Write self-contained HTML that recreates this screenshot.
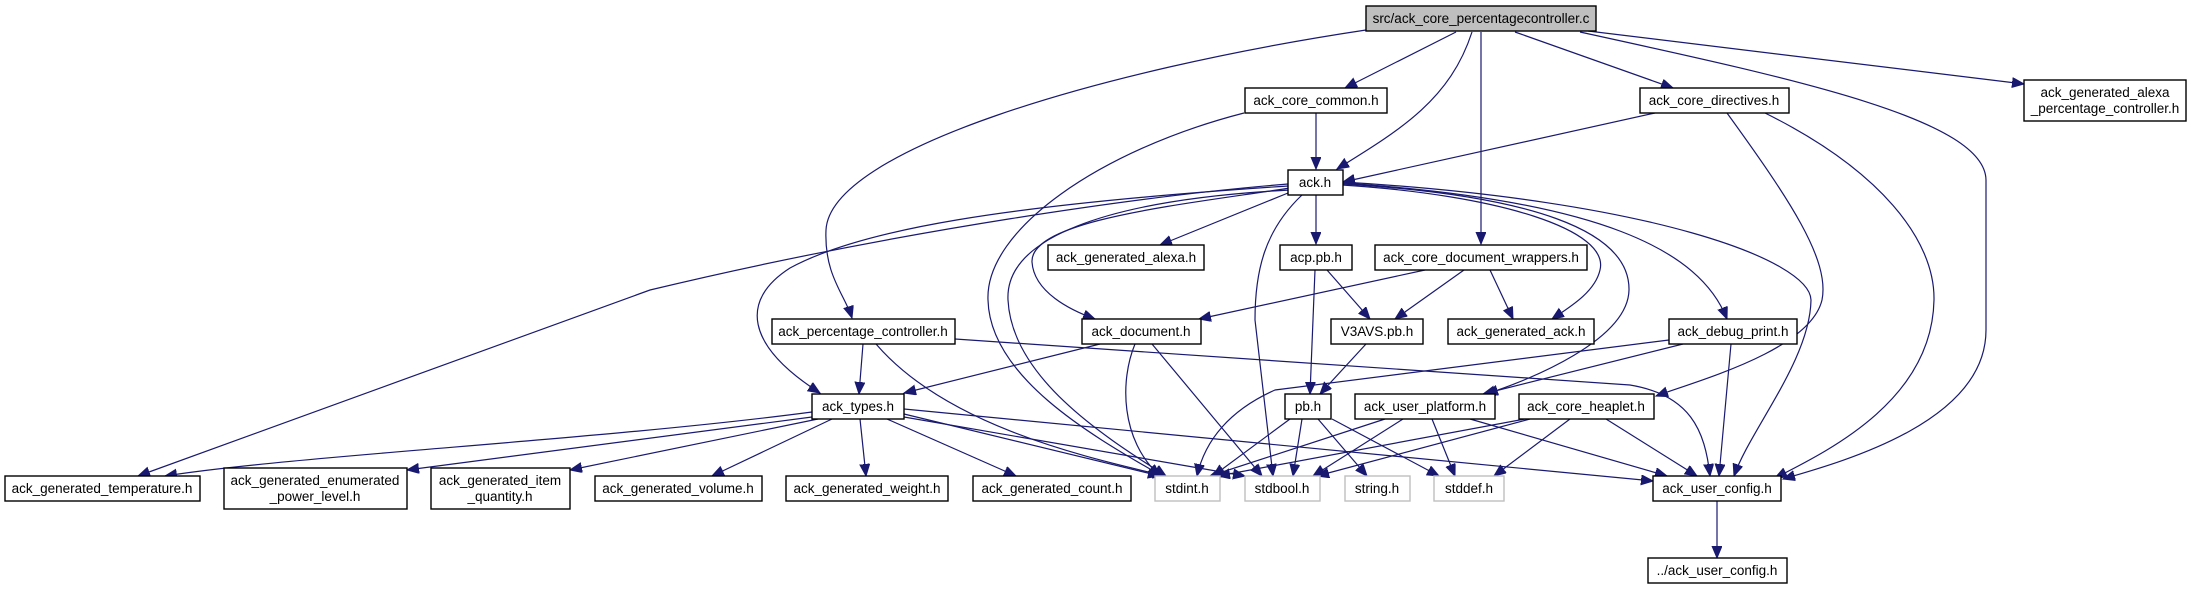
<!DOCTYPE html>
<html><head><meta charset="utf-8"><style>
html,body{margin:0;padding:0;background:#fff;}
svg{display:block;}
text{font-family:"Liberation Sans",Arial,sans-serif;font-size:13.5px;fill:#000;text-anchor:middle;}
.n{fill:#fff;stroke:#000;stroke-width:1.4;}
.g{fill:#fff;stroke:#bfbfbf;stroke-width:1.4;}
.e{fill:none;stroke:#191970;stroke-width:1.2;marker-end:url(#a);}
</style></head><body>
<svg width="2192" height="589" viewBox="0 0 2192 589" xmlns="http://www.w3.org/2000/svg">
<defs><marker id="a" markerUnits="userSpaceOnUse" markerWidth="14" markerHeight="12" refX="12" refY="5" orient="auto"><path d="M0,0 L12,5 L0,10 z" fill="#191970" stroke="#191970"/></marker></defs>
<g>
<path class="e" d="M1366,30 C1100,70 830,150 826,230 C824,275 845,295 852,318"/>
<path class="e" d="M1456,32 L1345,88"/>
<path class="e" d="M1472,32 C1450,100 1400,130 1337,169"/>
<path class="e" d="M1481,32 L1481,244"/>
<path class="e" d="M1515,32 L1673,88"/>
<path class="e" d="M1588,31 L2024,84"/>
<path class="e" d="M1580,32 C1800,80 1985,120 1986,180 L1986,330 C1986,420 1850,460 1783,479"/>
<path class="e" d="M1316,113 L1316,169"/>
<path class="e" d="M1244,113 C1100,150 985,230 988,300 C990,380 1100,440 1162,476"/>
<path class="e" d="M1655,113 L1343,182"/>
<path class="e" d="M1727,113 C1790,200 1830,260 1822,300 C1810,350 1700,380 1656,396"/>
<path class="e" d="M1765,113 C1880,170 1935,240 1934,300 C1932,400 1830,450 1775,478"/>
<path class="e" d="M1288,193 L1160,245"/>
<path class="e" d="M1316,195 L1316,244"/>
<path class="e" d="M1290,188 C1180,205 1030,220 1032,262 C1034,292 1070,310 1095,319"/>
<path class="e" d="M1288,186 C1000,205 860,230 790,268 C740,300 745,345 820,393"/>
<path class="e" d="M1288,184 C1150,195 900,230 650,290 L138,476"/>
<path class="e" d="M1290,190 C1100,200 1005,240 1008,300 C1012,380 1110,440 1166,476"/>
<path class="e" d="M1302,195 C1265,230 1255,270 1255,320 L1273,476"/>
<path class="e" d="M1342,185 C1500,195 1610,230 1600,270 C1595,292 1570,307 1552,319"/>
<path class="e" d="M1342,184 C1530,195 1630,230 1629,290 C1628,340 1530,380 1486,394"/>
<path class="e" d="M1342,183 C1600,200 1700,250 1727,319"/>
<path class="e" d="M1342,182 C1650,200 1810,260 1811,300 C1810,360 1750,430 1734,476"/>
<path class="e" d="M1425,270 L1199,319"/>
<path class="e" d="M1464,270 L1395,319"/>
<path class="e" d="M1490,270 L1513,319"/>
<path class="e" d="M1327,270 L1370,319"/>
<path class="e" d="M1315,270 L1310,394"/>
<path class="e" d="M1366,344 L1320,394"/>
<path class="e" d="M1100,344 L904,393"/>
<path class="e" d="M1135,344 C1120,380 1120,440 1160,476"/>
<path class="e" d="M1152,344 L1262,476"/>
<path class="e" d="M863,344 L859,394"/>
<path class="e" d="M876,344 C950,430 1100,460 1165,476"/>
<path class="e" d="M955,339 L1630,385 C1690,395 1705,430 1710,476"/>
<path class="e" d="M1669,340 L1275,390 C1230,410 1205,440 1197,476"/>
<path class="e" d="M1683,344 L1483,394"/>
<path class="e" d="M1731,344 L1719,476"/>
<path class="e" d="M1290,419 L1213,476"/>
<path class="e" d="M1302,419 L1293,476"/>
<path class="e" d="M1318,419 L1367,476"/>
<path class="e" d="M1332,419 L1439,476"/>
<path class="e" d="M1385,419 L1210,476"/>
<path class="e" d="M1403,419 L1313,476"/>
<path class="e" d="M1432,419 L1455,476"/>
<path class="e" d="M1470,419 L1667,476"/>
<path class="e" d="M1525,419 L1218,476"/>
<path class="e" d="M1530,419 L1317,476"/>
<path class="e" d="M1570,419 L1494,476"/>
<path class="e" d="M1606,419 L1697,476"/>
<path class="e" d="M812,412 C600,440 300,455 165,476"/>
<path class="e" d="M812,417 L407,470"/>
<path class="e" d="M818,419 L570,470"/>
<path class="e" d="M832,419 L712,476"/>
<path class="e" d="M860,419 L866,476"/>
<path class="e" d="M887,419 L1016,476"/>
<path class="e" d="M904,414 L1160,476"/>
<path class="e" d="M904,417 L1245,476"/>
<path class="e" d="M904,409 L1653,481"/>
<path class="e" d="M1717,501 L1717,558"/>
</g>
<g>
<rect x="1366" y="6" width="230" height="25" fill="#bfbfbf" stroke="#000" stroke-width="1.4"/><text x="1481" y="23">src/ack_core_percentagecontroller.c</text>
<rect class="n" x="1245" y="88" width="142" height="25"/><text x="1316" y="105">ack_core_common.h</text>
<rect class="n" x="1640" y="88" width="149" height="25"/><text x="1714" y="105">ack_core_directives.h</text>
<rect class="n" x="2024" y="80" width="162" height="41"/><text x="2105" y="97">ack_generated_alexa</text><text x="2105" y="113">_percentage_controller.h</text>
<rect class="n" x="1288" y="170" width="55" height="25"/><text x="1315" y="187">ack.h</text>
<rect class="n" x="1048" y="245" width="156" height="25"/><text x="1126" y="262">ack_generated_alexa.h</text>
<rect class="n" x="1280" y="245" width="72" height="25"/><text x="1316" y="262">acp.pb.h</text>
<rect class="n" x="1375" y="245" width="212" height="25"/><text x="1481" y="262">ack_core_document_wrappers.h</text>
<rect class="n" x="772" y="319" width="183" height="25"/><text x="863" y="336">ack_percentage_controller.h</text>
<rect class="n" x="1082" y="319" width="119" height="25"/><text x="1141" y="336">ack_document.h</text>
<rect class="n" x="1331" y="319" width="92" height="25"/><text x="1377" y="336">V3AVS.pb.h</text>
<rect class="n" x="1448" y="319" width="146" height="25"/><text x="1521" y="336">ack_generated_ack.h</text>
<rect class="n" x="1669" y="319" width="128" height="25"/><text x="1733" y="336">ack_debug_print.h</text>
<rect class="n" x="812" y="394" width="92" height="25"/><text x="858" y="411">ack_types.h</text>
<rect class="n" x="1285" y="394" width="46" height="25"/><text x="1308" y="411">pb.h</text>
<rect class="n" x="1355" y="394" width="140" height="25"/><text x="1425" y="411">ack_user_platform.h</text>
<rect class="n" x="1519" y="394" width="135" height="25"/><text x="1586" y="411">ack_core_heaplet.h</text>
<rect class="n" x="5" y="476" width="195" height="25"/><text x="102" y="493">ack_generated_temperature.h</text>
<rect class="n" x="224" y="468" width="183" height="41"/><text x="315" y="485">ack_generated_enumerated</text><text x="315" y="501">_power_level.h</text>
<rect class="n" x="431" y="468" width="139" height="41"/><text x="500" y="485">ack_generated_item</text><text x="500" y="501">_quantity.h</text>
<rect class="n" x="595" y="476" width="167" height="25"/><text x="678" y="493">ack_generated_volume.h</text>
<rect class="n" x="786" y="476" width="162" height="25"/><text x="867" y="493">ack_generated_weight.h</text>
<rect class="n" x="973" y="476" width="158" height="25"/><text x="1052" y="493">ack_generated_count.h</text>
<rect class="g" x="1155" y="476" width="65" height="25"/><text x="1187" y="493">stdint.h</text>
<rect class="g" x="1245" y="476" width="75" height="25"/><text x="1282" y="493">stdbool.h</text>
<rect class="g" x="1345" y="476" width="65" height="25"/><text x="1377" y="493">string.h</text>
<rect class="g" x="1434" y="476" width="70" height="25"/><text x="1469" y="493">stddef.h</text>
<rect class="n" x="1653" y="476" width="128" height="25"/><text x="1717" y="493">ack_user_config.h</text>
<rect class="n" x="1648" y="558" width="139" height="25"/><text x="1717" y="575">../ack_user_config.h</text>
</g>
</svg>
</body></html>
